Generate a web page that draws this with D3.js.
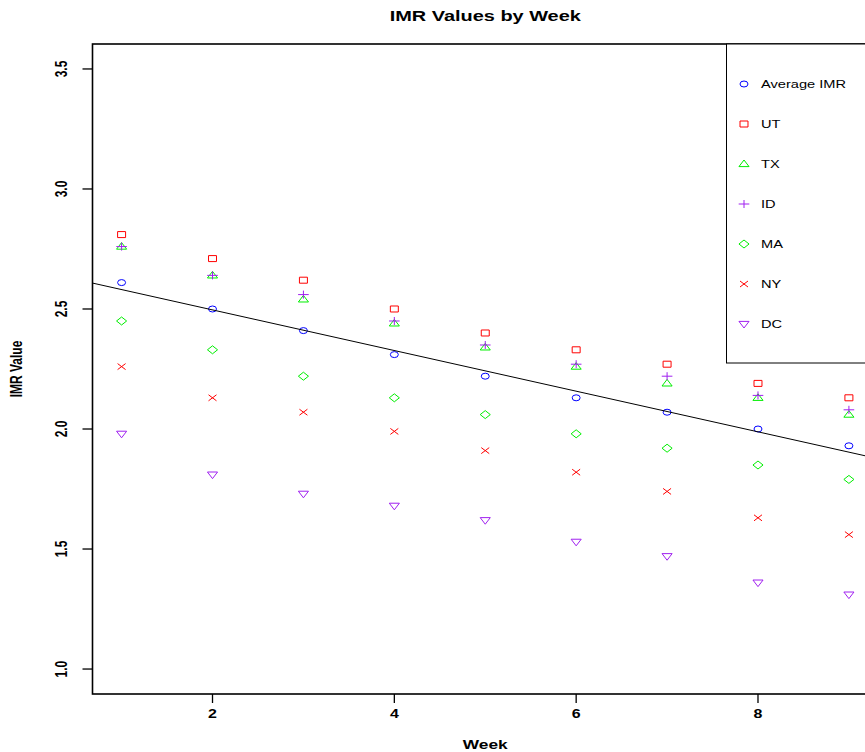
<!DOCTYPE html>
<html lang="en">
<head>
<meta charset="utf-8">
<title>IMR Values by Week</title>
<script src="https://d3js.org/d3.v7.min.js"></script>
<style type="text/css">
body {
	margin: 0;
	background-color: white;
	font-family: "Liberation Sans", Arial, Helvetica, sans-serif;
}
svg { display: block; }
.sym {
	fill: none;
	stroke-width: 1;
	vector-effect: non-scaling-stroke;
}
</style>
</head>
<body>
<script type="text/javascript">

// data
var weeks = [1, 2, 3, 4, 5, 6, 7, 8, 9];
var avgIMR = [2.61, 2.50, 2.41, 2.31, 2.22, 2.13, 2.07, 2.00, 1.93];
var utIMR  = [2.81, 2.71, 2.62, 2.50, 2.40, 2.33, 2.27, 2.19, 2.13];
var txIMR  = [2.76, 2.64, 2.54, 2.44, 2.34, 2.26, 2.19, 2.13, 2.06];
var idIMR  = [2.76, 2.64, 2.56, 2.45, 2.35, 2.27, 2.22, 2.14, 2.08];
var maIMR  = [2.45, 2.33, 2.22, 2.13, 2.06, 1.98, 1.92, 1.85, 1.79];
var nyIMR  = [2.26, 2.13, 2.07, 1.99, 1.91, 1.82, 1.74, 1.63, 1.56];
var dcIMR  = [1.98, 1.81, 1.73, 1.68, 1.62, 1.53, 1.47, 1.36, 1.31];

var seriesNames = ["Average IMR", "UT", "TX", "ID", "MA", "NY", "DC"];
var seriesValues = [avgIMR, utIMR, txIMR, idIMR, maIMR, nyIMR, dcIMR];
var seriesColors = ["#0000ff", "#ff0000", "#00ee00", "#a020f0", "#00ee00", "#ff0000", "#a020f0"];
var seriesShapes = ["circle", "square", "triangle", "plus", "diamond", "cross", "down"];

var xTicks = [2, 4, 6, 8];
var yTicks = [1.0, 1.5, 2.0, 2.5, 3.0, 3.5];

var width = 865;
var height = 752;
var stretch = 1.33; // the reference is drawn a little wider than tall

var plotLeft = 92.5, plotRight = 878, plotTop = 44, plotBottom = 694;

// R style limits: data range plus 4% each side
var x = d3.scaleLinear().domain([1 - 0.32, 9 + 0.32]).range([plotLeft, plotRight]);
var y = d3.scaleLinear().domain([1 - 0.104, 3.5 + 0.104]).range([plotBottom, plotTop]);

var svg = d3.select("body").append("svg").attr("width", width).attr("height", height);

svg.append("clipPath").attr("id", "plotclip")
	.append("rect").attr("x", plotLeft).attr("y", plotTop)
	.attr("width", plotRight - plotLeft).attr("height", plotBottom - plotTop);

// small shape paths, drawn then stretched sideways
var shapePaths = {
	square: "M-3,-3H3V3H-3Z",
	triangle: "M0,-4L3.8,2.6L-3.8,2.6Z",
	plus: "M-4,0H4M0,-4V4",
	diamond: "M0,-4L3.8,0L0,4L-3.8,0Z",
	cross: "M-3,-3L3,3M-3,3L3,-3",
	down: "M0,4L3.8,-2.6L-3.8,-2.6Z"
};

function drawSymbol(g, shape, color, cx, cy) {
	var t = "translate(" + cx + "," + cy + ") scale(" + stretch + ",1)";
	if (shape == "circle") {
		g.append("circle").attr("class", "sym").attr("r", 3).attr("transform", t).attr("stroke", color);
	} else {
		g.append("path").attr("class", "sym").attr("d", shapePaths[shape]).attr("transform", t).attr("stroke", color);
	}
}

// points
var pts = svg.append("g").attr("clip-path", "url(#plotclip)");
seriesValues.forEach(function(vals, i) {
	vals.forEach(function(v, j) {
		drawSymbol(pts, seriesShapes[i], seriesColors[i], x(weeks[j]), y(v));
	});
});

// least squares line through the average
var mx = d3.mean(weeks), my = d3.mean(avgIMR);
var sxy = d3.sum(weeks, function(w, j) { return (w - mx) * (avgIMR[j] - my); });
var sxx = d3.sum(weeks, function(w) { return (w - mx) * (w - mx); });
var slope = sxy / sxx, intercept = my - slope * mx;
var xd = x.domain();
pts.append("line")
	.attr("x1", x(xd[0])).attr("y1", y(intercept + slope * xd[0]))
	.attr("x2", x(xd[1])).attr("y2", y(intercept + slope * xd[1]))
	.attr("stroke", "#000").attr("stroke-width", 1);

// plot frame
svg.append("rect")
	.attr("x", plotLeft).attr("y", plotTop).attr("width", plotRight - plotLeft).attr("height", plotBottom - plotTop)
	.attr("fill", "none").attr("stroke", "#000").attr("stroke-width", 1.6);

// y axis
var yAxis = svg.append("g");
yTicks.forEach(function(t) {
	yAxis.append("line").attr("x1", plotLeft - 10).attr("x2", plotLeft).attr("y1", y(t)).attr("y2", y(t))
		.attr("stroke", "#000").attr("stroke-width", 1.3);
	yAxis.append("text")
		.attr("transform", "translate(67," + y(t) + ") scale(" + stretch + ",1) rotate(-90)")
		.attr("text-anchor", "middle")
		.attr("font-size", 12).attr("font-weight", "bold")
		.text(d3.format(".1f")(t));
});

// x axis
var xAxis = svg.append("g");
xTicks.forEach(function(t) {
	xAxis.append("line").attr("x1", x(t)).attr("x2", x(t)).attr("y1", plotBottom).attr("y2", plotBottom + 9)
		.attr("stroke", "#000").attr("stroke-width", 1.3);
	xAxis.append("text")
		.attr("transform", "translate(" + x(t) + ",718) scale(" + stretch + ",1)")
		.attr("text-anchor", "middle")
		.attr("font-size", 12).attr("font-weight", "bold")
		.text(t);
});

// titles
svg.append("text")
	.attr("transform", "translate(" + ((plotLeft + plotRight) / 2) + ",21) scale(" + stretch + ",1)")
	.attr("text-anchor", "middle").attr("font-size", 15).attr("font-weight", "bold")
	.text("IMR Values by Week");

svg.append("text")
	.attr("transform", "translate(" + ((plotLeft + plotRight) / 2) + ",749) scale(" + stretch + ",1)")
	.attr("text-anchor", "middle").attr("font-size", 13).attr("font-weight", "bold")
	.text("Week");

svg.append("text")
	.attr("transform", "translate(22," + ((plotTop + plotBottom) / 2) + ") scale(" + stretch + ",1) rotate(-90)")
	.attr("text-anchor", "middle").attr("font-size", 12).attr("font-weight", "bold")
	.text("IMR Value");

// legend
var legend = svg.append("g");
legend.append("rect")
	.attr("x", 726.5).attr("y", plotTop).attr("width", plotRight - 726.5).attr("height", 363 - plotTop)
	.attr("fill", "white").attr("stroke", "#000").attr("stroke-width", 1);
seriesNames.forEach(function(name, i) {
	var ly = 84 + i * 40;
	drawSymbol(legend, seriesShapes[i], seriesColors[i], 744, ly);
	legend.append("text")
		.attr("transform", "translate(761," + (ly + 4) + ") scale(" + stretch + ",1)")
		.attr("font-size", 11)
		.text(name);
});

</script>
</body>
</html>
